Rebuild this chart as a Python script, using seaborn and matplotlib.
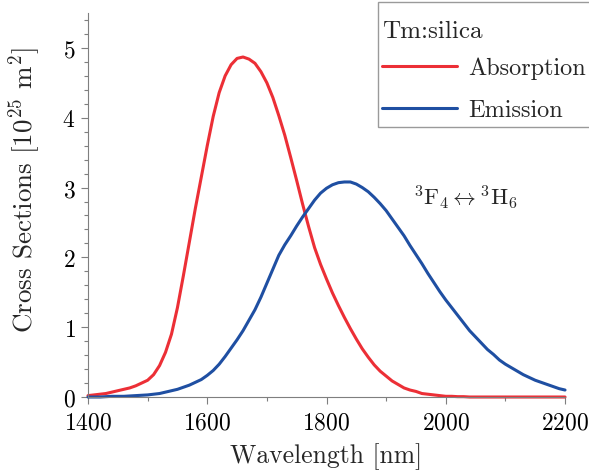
import numpy as np
import pandas as pd
import matplotlib
matplotlib.use("Agg")
import matplotlib.pyplot as plt
from matplotlib.patches import Rectangle
from matplotlib.ticker import MultipleLocator
import seaborn as sns

# Wavelength grid (nm) and cross sections (10^-25 m^2)
wavelength = list(range(1400, 2201, 10))

absorption = [0.02, 0.03, 0.04, 0.05, 0.07, 0.09, 0.11, 0.13, 0.16, 0.20,
              0.24, 0.32, 0.45, 0.64, 0.90, 1.28, 1.74, 2.22, 2.70, 3.15,
              3.60, 4.02, 4.36, 4.60, 4.76, 4.85, 4.87, 4.84, 4.78, 4.66,
              4.50, 4.29, 4.03, 3.75, 3.43, 3.10, 2.76, 2.44, 2.14, 1.90,
              1.69, 1.49, 1.31, 1.14, 0.98, 0.83, 0.69, 0.57, 0.46, 0.37,
              0.30, 0.23, 0.18, 0.13, 0.10, 0.08, 0.05, 0.04, 0.03, 0.02,
              0.01, 0.01, 0.005, 0.005, 0.0, 0.0, 0.0, 0.0, 0.0, 0.0,
              0.0, 0.0, 0.0, 0.0, 0.0, 0.0, 0.0, 0.0, 0.0, 0.0, 0.0]

emission = [0.0, 0.0, 0.0, 0.005, 0.01, 0.01, 0.01, 0.015, 0.02, 0.025,
            0.03, 0.04, 0.05, 0.07, 0.09, 0.11, 0.14, 0.17, 0.21, 0.25,
            0.31, 0.38, 0.47, 0.58, 0.70, 0.82, 0.95, 1.10, 1.25, 1.43,
            1.63, 1.83, 2.03, 2.18, 2.31, 2.45, 2.58, 2.70, 2.82, 2.92,
            2.99, 3.04, 3.07, 3.08, 3.08, 3.05, 3.00, 2.94, 2.86, 2.77,
            2.67, 2.55, 2.43, 2.31, 2.17, 2.04, 1.91, 1.77, 1.64, 1.51,
            1.39, 1.28, 1.17, 1.06, 0.95, 0.86, 0.77, 0.68, 0.61, 0.53,
            0.47, 0.42, 0.37, 0.32, 0.28, 0.24, 0.21, 0.18, 0.15, 0.12, 0.10]

series_names = ["Absorption", "Emission"]
series_colors = ["#ec2f36", "#1f4fa2"]

df = pd.DataFrame({
    "Wavelength": wavelength * 2,
    "Cross": absorption + emission,
    "Series": [series_names[0]] * len(wavelength) + [series_names[1]] * len(wavelength),
})

sns.set_style("ticks")
plt.rcParams.update({
    "font.family": "serif",
    "font.serif": ["cmr10"],
    "mathtext.fontset": "cm",
    "axes.formatter.use_mathtext": True,
    "axes.edgecolor": "#7f7f7f",
    "xtick.color": "#7f7f7f",
    "ytick.color": "#7f7f7f",
    "xtick.labelcolor": "black",
    "ytick.labelcolor": "black",
})

fig = plt.figure(figsize=(5.89, 4.77), dpi=100)
ax = fig.add_axes([0.1494, 0.1656, 0.8099, 0.805])

sns.lineplot(data=df, x="Wavelength", y="Cross", hue="Series",
             palette=dict(zip(series_names, series_colors)),
             linewidth=2.2, ax=ax, legend=False, clip_on=False)

ax.set_xlim(1400, 2200)
ax.set_ylim(0, 5.5)
ax.xaxis.set_major_locator(MultipleLocator(200))
ax.xaxis.set_minor_locator(MultipleLocator(100))
ax.yaxis.set_major_locator(MultipleLocator(1))
ax.yaxis.set_minor_locator(MultipleLocator(0.2))
ax.tick_params(which="major", length=5, width=0.8, labelsize=17)
ax.tick_params(axis="x", which="major", pad=5)
ax.tick_params(axis="y", which="major", pad=4)
ax.tick_params(which="minor", length=3, width=0.8)
sns.despine(ax=ax)

ax.set_xlabel("Wavelength [nm]", fontsize=18.5, labelpad=7)
ax.set_ylabel(r"Cross Sections [10$^{25}$ m$^{2}$]", fontsize=19.5)
ax.yaxis.set_label_coords(-0.095, 0.541)

ax.text(1945, 2.87, r"$^{3}\mathrm{F}_{4}{\leftrightarrow}{}^{3}\mathrm{H}_{6}$",
        fontsize=16.5, ha="left", va="center")

# Legend box frame
fig.patches.append(Rectangle((378 / 589, 1 - 128 / 477), 230 / 589, 125 / 477,
                             transform=fig.transFigure, facecolor="white",
                             edgecolor="#9a9a9a", linewidth=1.0, zorder=4))

handles = [plt.Line2D([], [], color=c, lw=2.2) for c in series_colors]
leg = fig.legend(handles, series_names, title="Tm:silica",
                 loc="upper left", bbox_to_anchor=(382 / 589, 1 - 21 / 477),
                 borderaxespad=0, borderpad=0, fontsize=17.5, title_fontsize=18,
                 frameon=False, handlelength=3.1, handletextpad=0.45,
                 labelspacing=0.82, alignment="left")
leg._legend_box.sep = 10.6
leg.set_zorder(5)

fig.savefig("out.png", dpi=100)
